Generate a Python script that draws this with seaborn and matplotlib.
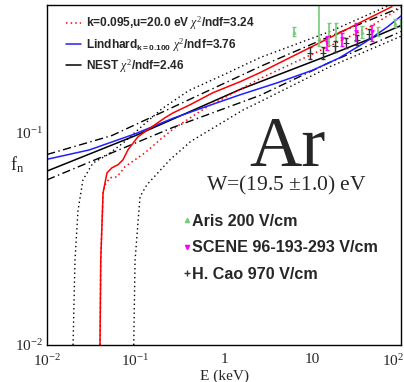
import matplotlib
matplotlib.use('Agg')
import matplotlib.pyplot as plt
from matplotlib.lines import Line2D
from matplotlib.transforms import ScaledTranslation
from matplotlib.ticker import FixedLocator, FixedFormatter, LogLocator, NullFormatter
import seaborn as sns

# model curves: energy (keV) and f_n
e_nest = [0.01, 0.1, 0.265, 1.52, 15.8, 40, 100]
f_nest = [0.066, 0.097, 0.116, 0.160, 0.233, 0.272, 0.32]

e_lind = [0.01, 0.03, 0.1, 0.265, 0.6, 1.52, 4, 10, 20, 40, 70, 100]
f_lind = [0.075, 0.083, 0.099, 0.117, 0.132, 0.151, 0.172, 0.197, 0.225, 0.268, 0.315, 0.355]

e_red = [0.0397, 0.0405, 0.043, 0.0476, 0.0542, 0.0634, 0.0722, 0.0823, 0.1067,
         0.1535, 0.215, 0.265, 0.413, 0.751, 1.52, 2.55, 15.8, 79]
f_red = [0.0100, 0.0252, 0.0521, 0.0647, 0.0684, 0.0707, 0.0746, 0.0832, 0.0958,
         0.1067, 0.1177, 0.124, 0.1355, 0.1545, 0.174, 0.192, 0.281, 0.393]

e_redd = [0.0397, 0.0405, 0.043, 0.0452, 0.0515, 0.0618, 0.0761, 0.128, 0.189,
          0.265, 0.6, 2.55, 15.8, 44.7, 100]
f_redd = [0.0100, 0.0252, 0.0521, 0.0569, 0.0614, 0.062, 0.0692, 0.0805, 0.0927,
          0.1040, 0.130, 0.18, 0.257, 0.316, 0.389]

# NEST band (dash-dot)
e_nest_up = [0.01, 0.054, 0.265, 2.55, 15.8, 100]
f_nest_up = [0.079, 0.097, 0.132, 0.205, 0.285, 0.39]
e_nest_lo = [0.01, 0.035, 0.265, 2.55, 15.8, 100]
f_nest_lo = [0.060, 0.0746, 0.106, 0.150, 0.215, 0.30]

# model band (dotted)
e_band_up = [0.0197, 0.0207, 0.0224, 0.0255, 0.033, 0.049, 0.076, 0.12, 0.2, 0.4, 1,
             2.55, 15.8, 75]
f_band_up = [0.010, 0.025, 0.043, 0.060, 0.072, 0.079, 0.091, 0.108, 0.13, 0.158, 0.188,
             0.226, 0.30, 0.40]
e_band_lo = [0.0955, 0.0988, 0.1125, 0.135, 0.245, 0.42, 1.64, 2.55, 15.8, 100]
f_band_lo = [0.010, 0.025, 0.050, 0.057, 0.0746, 0.091, 0.128, 0.140, 0.205, 0.285]

# measurements
e_aris = [6.2, 11.8, 15.5, 18.5, 36, 55, 85, 100]
f_aris = [0.30, 0.28, 0.29, 0.30, 0.30, 0.30, 0.33, 0.33]
lo_aris = [0.015, 0.025, 0.03, 0.03, 0.02, 0.015, 0.015, 0.015]
hi_aris = [0.015, 0.2, 0.04, 0.03, 0.02, 0.015, 0.015, 0.015]

e_scene = [14.6, 21.5, 31, 47]
f_scene = [0.266, 0.276, 0.30, 0.297]
err_scene = [0.02, 0.02, 0.03, 0.025]

e_cao = [9.4, 13.2, 17.9, 23.9, 31.6, 43.5]
f_cao = [0.238, 0.238, 0.255, 0.266, 0.275, 0.293]
err_cao = [0.015, 0.015, 0.015, 0.015, 0.015, 0.015]

x_ticks = [0.01, 0.1, 1, 10, 100]
x_ticklabels = [r'$10^{-2}$', r'$10^{-1}$', '1', '10', r'$10^{2}$']
y_ticks = [0.01, 0.1]
y_ticklabels = [r'$10^{-2}$', r'$10^{-1}$']

sns.set_style('white')
plt.rcParams['font.family'] = ['Liberation Sans', 'DejaVu Sans']
plt.rcParams['mathtext.fontset'] = 'custom'
plt.rcParams['mathtext.rm'] = 'Liberation Serif'
plt.rcParams['mathtext.it'] = 'Liberation Serif:italic'
plt.rcParams['mathtext.bf'] = 'Liberation Sans:bold'
plt.rcParams['mathtext.sf'] = 'Liberation Sans'

fig = plt.figure(figsize=(4.04, 3.82), dpi=100)
ax = fig.add_axes([47 / 404, 37 / 382, 354 / 404, 340 / 382])
ax.set_xscale('log')
ax.set_yscale('log')

lw = 1.1
dotted = (0, (1, 2.2))
dashdot = (0, (6, 2.5, 1, 2.5))
sns.lineplot(x=e_band_up, y=f_band_up, ax=ax, color='black', lw=1.0, linestyle=dotted,
             sort=False, estimator=None)
sns.lineplot(x=e_band_lo, y=f_band_lo, ax=ax, color='black', lw=1.0, linestyle=dotted,
             sort=False, estimator=None)
sns.lineplot(x=e_nest_up, y=f_nest_up, ax=ax, color='black', lw=1.0, linestyle=dashdot,
             sort=False, estimator=None)
sns.lineplot(x=e_nest_lo, y=f_nest_lo, ax=ax, color='black', lw=1.0, linestyle=dashdot,
             sort=False, estimator=None)
sns.lineplot(x=e_nest, y=f_nest, ax=ax, color='black', lw=lw, sort=False, estimator=None)
sns.lineplot(x=e_lind, y=f_lind, ax=ax, color='#1f1fff', lw=lw, sort=False, estimator=None)
sns.lineplot(x=e_red, y=f_red, ax=ax, color='#ff0000', lw=lw, sort=False, estimator=None)
sns.lineplot(x=e_redd, y=f_redd, ax=ax, color='#ff0000', lw=lw, linestyle=(0, (1, 2)),
             sort=False, estimator=None)

# data points
aris_c = '#77cc77'
scene_c = '#ff00ff'
cao_c = '#333333'
ax.errorbar(e_aris, f_aris, yerr=[lo_aris, hi_aris], fmt='none', ecolor=aris_c, elinewidth=1.2,
            capsize=1.5)
ax.errorbar(e_scene, f_scene, yerr=err_scene, fmt='none', ecolor=scene_c, elinewidth=1.2,
            capsize=1.5)
ax.errorbar(e_cao, f_cao, yerr=err_cao, fmt='none', ecolor=cao_c, elinewidth=1.0, capsize=1.5)
sns.scatterplot(x=e_aris, y=f_aris, ax=ax, marker='^', color=aris_c, s=10, linewidth=0)
sns.scatterplot(x=e_scene, y=f_scene, ax=ax, marker='v', color=scene_c, s=12, linewidth=0)
sns.scatterplot(x=e_cao, y=f_cao, ax=ax, marker='+', color=cao_c, s=14, linewidth=0.8)

ax.set_xlim(0.01, 100)
ax.set_ylim(0.01, 0.40)

for s in ax.spines.values():
    s.set_color('black')
    s.set_linewidth(1.0)

ax.xaxis.set_major_locator(FixedLocator(x_ticks))
ax.xaxis.set_major_formatter(FixedFormatter(x_ticklabels))
ax.yaxis.set_major_locator(FixedLocator(y_ticks))
ax.yaxis.set_major_formatter(FixedFormatter(y_ticklabels))
ax.xaxis.set_minor_locator(LogLocator(base=10, subs=range(2, 10)))
ax.yaxis.set_minor_locator(LogLocator(base=10, subs=range(2, 10)))
ax.xaxis.set_minor_formatter(NullFormatter())
ax.yaxis.set_minor_formatter(NullFormatter())
ax.tick_params(which='both', direction='in', top=False, right=False, color='black', width=0.8,
               labelsize=11, labelfontfamily='Liberation Serif', pad=3)
ax.tick_params(axis='x', which='both', pad=6)
ax.tick_params(which='major', length=8)
ax.tick_params(which='minor', length=4)

# last x label sits a bit inside the frame, as in the original
last = ax.get_xticklabels()[-1]
last.set_transform(last.get_transform() + ScaledTranslation(-6 / 72, 0, fig.dpi_scale_trans))

ax.set_xlabel('E (keV)', fontsize=11, family='Liberation Serif', labelpad=0)
ax.set_ylabel(r'$\mathrm{f}_\mathrm{n}$', fontsize=13, rotation=0)
ax.yaxis.set_label_coords(-0.085, 0.50)

# model legend
h_model = [Line2D([], [], color='#ff0000', lw=lw, linestyle=(0, (1, 2))),
           Line2D([], [], color='#1f1fff', lw=lw),
           Line2D([], [], color='black', lw=lw)]
l_model = [r'k=0.095,u=20.0 eV $\chi^2$/ndf=3.24',
           r'Lindhard$_{\mathbf{k=0.100}}$ $\chi^2$/ndf=3.76',
           r'NEST $\chi^2$/ndf=2.46']
leg1 = ax.legend(h_model, l_model, loc='upper left', bbox_to_anchor=(0.04, 0.985), frameon=False,
                 prop={'weight': 'bold', 'size': 8.6}, handlelength=1.3, handletextpad=0.35,
                 labelspacing=0.3, borderaxespad=0)
ax.add_artist(leg1)

# data legend
h_data = [Line2D([], [], color=aris_c, marker='^', ms=3, lw=0),
          Line2D([], [], color=scene_c, marker='v', ms=3, lw=0),
          Line2D([], [], color=cao_c, marker='+', ms=4, lw=0)]
l_data = ['Aris 200 V/cm', 'SCENE 96-193-293 V/cm', 'H. Cao 970 V/cm']
ax.legend(h_data, l_data, loc='upper left', bbox_to_anchor=(0.37, 0.405), frameon=False,
          prop={'weight': 'bold', 'size': 11.6}, handlelength=0.3, handletextpad=0.15,
          labelspacing=0.72, borderaxespad=0)

ax.text(0.68, 0.525, 'Ar', transform=ax.transAxes, fontsize=52, family='Liberation Serif',
        ha='center', va='baseline')
ax.text(0.675, 0.455, r'W=(19.5 $\pm$1.0) eV', transform=ax.transAxes, fontsize=15.5,
        family='Liberation Serif', ha='center', va='baseline')

fig.savefig('out.png', dpi=100)
